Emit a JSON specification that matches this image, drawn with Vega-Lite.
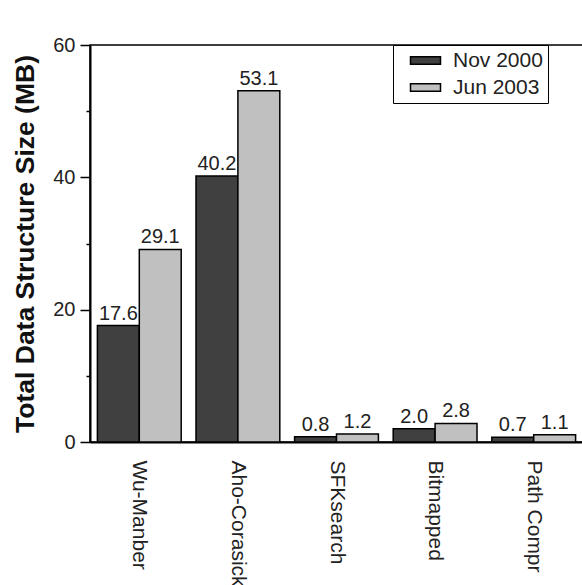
{
  "$schema": "https://vega.github.io/schema/vega-lite/v6.json",
  "width": 493,
  "height": 397,
  "autosize": {"type": "none"},
  "padding": {"left": 90, "top": 45, "right": 0, "bottom": 143},
  "background": "white",
  "config": {
    "font": "Liberation Sans",
    "view": {"stroke": "black", "strokeWidth": 1.5},
    "axis": {"labelFont": "Liberation Sans", "titleFont": "Liberation Sans", "labelColor": "#222", "titleColor": "#111"}
  },
  "data": {
    "values": [
      {"algo": "Wu-Manber", "date": "Nov 2000", "size": 17.6},
      {"algo": "Wu-Manber", "date": "Jun 2003", "size": 29.1},
      {"algo": "Aho-Corasick", "date": "Nov 2000", "size": 40.2},
      {"algo": "Aho-Corasick", "date": "Jun 2003", "size": 53.1},
      {"algo": "SFKsearch", "date": "Nov 2000", "size": 0.8},
      {"algo": "SFKsearch", "date": "Jun 2003", "size": 1.2},
      {"algo": "Bitmapped", "date": "Nov 2000", "size": 2.0},
      {"algo": "Bitmapped", "date": "Jun 2003", "size": 2.8},
      {"algo": "Path Compr", "date": "Nov 2000", "size": 0.7},
      {"algo": "Path Compr", "date": "Jun 2003", "size": 1.1}
    ]
  },
  "encoding": {
    "x": {
      "field": "algo", "type": "nominal", "sort": null,
      "scale": {"paddingInner": 0.15, "paddingOuter": 0.075},
      "axis": {"title": null, "labelAngle": 90, "ticks": false, "labelPadding": 18, "labelFontSize": 21, "domainColor": "black", "domainWidth": 2, "labelAlign": "left", "labelBaseline": "middle"}
    },
    "xOffset": {"field": "date", "type": "nominal", "sort": ["Nov 2000", "Jun 2003"], "scale": {"paddingInner": 0, "paddingOuter": 0}},
    "y": {
      "field": "size", "type": "quantitative",
      "scale": {"domain": [0, 60], "nice": false},
      "axis": {
        "title": "Total Data Structure Size (MB)",
        "titleFontSize": 26.5, "titleFontWeight": "bold", "titlePadding": 13,
        "values": [0, 10, 20, 30, 40, 50, 60],
        "labelExpr": "datum.value % 20 === 0 ? datum.label : ''",
        "tickSize": {"condition": {"test": "datum.value % 20 === 0", "value": 10}, "value": 4},
        "labelPadding": 5,
        "labelFontSize": 20, "grid": false,
        "domainColor": "black", "domainWidth": 2, "tickColor": "black", "tickWidth": 1.5
      }
    }
  },
  "layer": [
    {
      "mark": {"type": "bar", "stroke": "black", "strokeWidth": 1.5},
      "encoding": {
        "fill": {
          "field": "date", "type": "nominal",
          "scale": {"domain": ["Nov 2000", "Jun 2003"], "range": ["#404040", "#c0c0c0"]},
          "legend": {
            "title": null, "orient": "none", "legendX": 303, "legendY": 0,
            "strokeColor": "black", "fillColor": "white",
            "padding": 5, "rowPadding": 5, "symbolOffset": 17,
            "labelFontSize": 21, "labelColor": "#222", "labelFont": "Liberation Sans",
            "labelExpr": "datum.label + '\u00a0\u00a0\u00a0\u00a0'",
            "symbolType": "M-2,-0.5H2V0.5H-2Z", "symbolSize": 225,
            "symbolStrokeColor": "black", "symbolStrokeWidth": 1.5, "labelOffset": 17
          }
        }
      }
    },
    {
      "mark": {"type": "text", "baseline": "bottom", "dy": -2, "fontSize": 20, "color": "#222"},
      "encoding": {"text": {"field": "size", "type": "quantitative", "format": ".1f"}}
    }
  ]
}
